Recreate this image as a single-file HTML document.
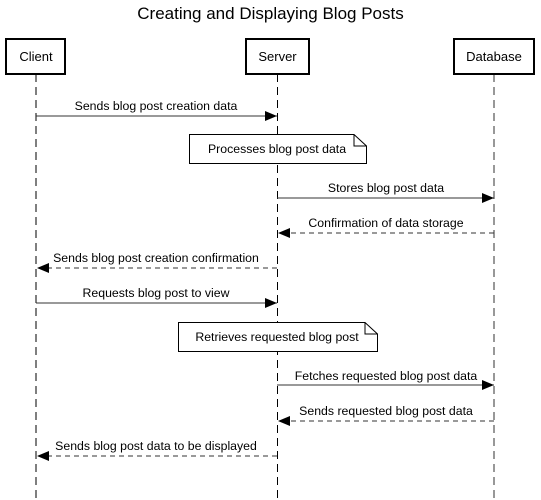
<!DOCTYPE html>
<html><head><style>html,body{margin:0;padding:0;background:#fff}svg{display:block}</style></head>
<body>
<svg width="541" height="500" viewBox="0 0 541 500" xmlns="http://www.w3.org/2000/svg" font-family="Liberation Sans, Arial, sans-serif">
<defs>
<marker id="a" markerWidth="12" markerHeight="10" refX="12" refY="5" orient="auto" markerUnits="userSpaceOnUse"><path d="M0,0 L12,5 L0,10 Z" fill="#000"/></marker>
</defs>
<text x="270.5" y="19" font-size="17" text-anchor="middle" fill="#000">Creating and Displaying Blog Posts</text>
<g stroke-dasharray="8,5" stroke-width="1.5">
<line x1="36" y1="74" x2="36" y2="500" stroke="#555"/>
<line x1="277.5" y1="74" x2="277.5" y2="500" stroke="#000" stroke-width="1"/>
<line x1="494" y1="74" x2="494" y2="500" stroke="#777"/>
</g>
<g fill="#fff" stroke="#000" stroke-width="2">
<rect x="6" y="39" width="59" height="35"/>
<rect x="246" y="39" width="63" height="35"/>
<rect x="454" y="39" width="80" height="35"/>
</g>
<g font-size="13" text-anchor="middle">
<text x="36" y="61">Client</text>
<text x="277.5" y="61">Server</text>
<text x="494" y="61">Database</text>
</g>
<g fill="#fff" stroke="#000" stroke-width="1">
<path d="M189.5,134.5 H354 L366.5,146 V163.5 H189.5 Z"/><path d="M354,134.5 V146 H366.5" fill="none"/>
<path d="M178.5,322.5 H365 L377.5,334 V351.5 H178.5 Z"/><path d="M365,322.5 V334 H377.5" fill="none"/>
</g>
<g font-size="12.3" text-anchor="middle">
<text x="277" y="153">Processes blog post data</text>
<text x="277" y="341">Retrieves requested blog post</text>
</g>
<g stroke="#333" stroke-width="1" fill="none" marker-end="url(#a)">
<line x1="36" y1="116" x2="277" y2="116"/>
<line x1="277" y1="198" x2="494" y2="198"/>
<line x1="494" y1="233" x2="278" y2="233" stroke-dasharray="5,4"/>
<line x1="277" y1="268" x2="37" y2="268" stroke-dasharray="5,4"/>
<line x1="36" y1="303" x2="277" y2="303"/>
<line x1="277" y1="385" x2="494" y2="385"/>
<line x1="494" y1="421" x2="278" y2="421" stroke-dasharray="5,4"/>
<line x1="277" y1="456" x2="37" y2="456" stroke-dasharray="5,4"/>
</g>
<g font-size="12.3" text-anchor="middle">
<text x="156" y="110">Sends blog post creation data</text>
<text x="386" y="192">Stores blog post data</text>
<text x="386" y="227">Confirmation of data storage</text>
<text x="156" y="262">Sends blog post creation confirmation</text>
<text x="156" y="297">Requests blog post to view</text>
<text x="386" y="380">Fetches requested blog post data</text>
<text x="386" y="415">Sends requested blog post data</text>
<text x="156" y="450">Sends blog post data to be displayed</text>
</g>
</svg>
</body></html>
